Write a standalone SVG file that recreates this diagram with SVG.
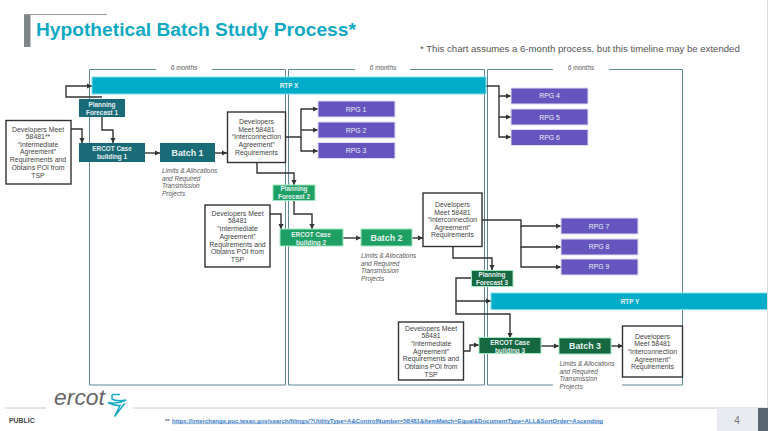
<svg xmlns="http://www.w3.org/2000/svg" width="768" height="431" viewBox="0 0 768 431">
<style>
text{font-family:"Liberation Sans",Arial,sans-serif}
.panel{fill:none;stroke:#5f8796;stroke-width:1}
.mo{font-size:6.4px;font-style:italic;fill:#555;text-anchor:middle}
.dev rect{fill:#fff;stroke:#333;stroke-width:1.4}
.dev text{font-size:6.9px;fill:#444;text-anchor:middle}
.rpg rect{fill:#6655bf;stroke:#e0dcf3;stroke-width:1}
.w{font-size:6.9px;fill:#e8f0f2;text-anchor:middle}
.wb{font-size:6.4px;font-weight:bold;fill:#e8f0f2;text-anchor:middle}
.batch{font-size:8.9px;font-weight:bold;fill:#e9f3f1;text-anchor:middle}
.rtp rect{fill:#00acc8;stroke:#7fdcec;stroke-width:1}
.dt rect{fill:#1a6b78}
.g2 rect{fill:#1ea064;stroke:#9fe6c2;stroke-width:1}
.g3 rect{fill:#15683f;stroke:#a5e6c4;stroke-width:1}
.lim{font-size:6.4px;font-style:italic;fill:#555}
.c{fill:none;stroke:#333;stroke-width:1.4}
.a{marker-end:url(#ah)}
</style>
<defs>
<marker id="ah" markerUnits="userSpaceOnUse" markerWidth="6" markerHeight="6" refX="5" refY="3" orient="auto"><path d="M0 0.4L5 3L0 5.6Z" fill="#333"/></marker>
</defs>
<rect width="768" height="431" fill="#fff"/>
<g id="title">
<rect x="24" y="14" width="6.5" height="33" fill="#7f8689"/>
<path d="M24 14.5H107" stroke="#999" stroke-width="1"/>
<text x="36" y="36" font-size="19.2" font-weight="bold" fill="#0fa9c4">Hypothetical Batch Study Process*</text>
<text x="420" y="52" font-size="9.6" fill="#555">* This chart assumes a 6-month process, but this timeline may be extended</text>
</g>
<g id="periods">
<path class="panel" d="M156 69.5H89.5V385H285.5V69.5H212"/>
<path class="panel" d="M355 69.5H288.5V385H484.5V69.5H410"/>
<path class="panel" d="M553 69.5H487.5V385H553M622 385H682.5V69.5H609"/>
<text class="mo" x="184" y="70">6 months</text>
<text class="mo" x="383" y="70">6 months</text>
<text class="mo" x="581" y="70">6 months</text>
</g>
<g id="connectors">
<path class="c a" d="M102 97H66V86H92"/>
<path class="c a" d="M102 117V130H113V143"/>
<path class="c a" d="M71 129H82V143"/>
<path class="c a" d="M145 153H160"/>
<path class="c a" d="M215 153H227"/>
<path class="c a" d="M286 137H301V109H318"/>
<path class="c a" d="M301 130H318"/>
<path class="c a" d="M301 137V151H318"/>
<path class="c a" d="M257 162V173H294V185"/>
<path class="c a" d="M294 200V214H312V229"/>
<path class="c a" d="M270 214H281V229"/>
<path class="c a" d="M343 238H361"/>
<path class="c a" d="M412 238H423"/>
<path class="c a" d="M482 220H521V226H561"/>
<path class="c a" d="M521 226V247H561"/>
<path class="c a" d="M521 247V267H561"/>
<path class="c a" d="M453 246V258H492V270"/>
<path class="c a" d="M471 278H456V314H510V338"/>
<path class="c a" d="M456 301H491"/>
<path class="c a" d="M463 351H470V345H479"/>
<path class="c a" d="M541 346H559"/>
<path class="c a" d="M611 346H623"/>
<path class="c a" d="M486 86H499V96H511"/>
<path class="c a" d="M499 96V117H511"/>
<path class="c a" d="M499 117V137H511"/>
</g>
<g id="rtp-x" class="rtp"><rect x="92" y="77" width="394" height="17"/><text class="wb" x="289" y="88">RTP X</text></g>
<g id="rtp-y" class="rtp"><rect x="491" y="293" width="280" height="16.5"/><text class="wb" x="630" y="303.5">RTP Y</text></g>
<g id="pf1" class="dt"><rect x="79" y="99" width="46" height="18"/><text class="wb" x="102" y="106.5">Planning</text><text class="wb" x="102" y="114.5">Forecast 1</text></g>
<g id="pf2" class="g2"><rect x="273" y="185" width="42" height="15.5"/><text class="wb" x="294" y="191">Planning</text><text class="wb" x="294" y="199">Forecast 2</text></g>
<g id="pf3" class="g3"><rect x="471.5" y="270.5" width="41.5" height="16"/><text class="wb" x="492" y="277">Planning</text><text class="wb" x="492" y="285">Forecast 3</text></g>
<g id="case1" class="dt"><rect x="79" y="143" width="66" height="19"/><text class="wb" x="112" y="151">ERCOT Case</text><text class="wb" x="112" y="159">building 1</text></g>
<g id="case2" class="g2"><rect x="280" y="229" width="63" height="17"/><text class="wb" x="311" y="236.5">ERCOT Case</text><text class="wb" x="311" y="244.5">building 2</text></g>
<g id="case3" class="g3"><rect x="479" y="337.5" width="62" height="16"/><text class="wb" x="510" y="344.5">ERCOT Case</text><text class="wb" x="510" y="352.5">building 3</text></g>
<g id="batch1" class="dt"><rect x="160" y="143" width="55" height="19"/><text class="batch" x="187.5" y="155.5">Batch 1</text></g>
<g id="batch2" class="g2"><rect x="361" y="229" width="51" height="17"/><text class="batch" x="386.5" y="240.5">Batch 2</text></g>
<g id="batch3" class="g3"><rect x="559" y="338" width="52" height="16"/><text class="batch" x="585" y="349">Batch 3</text></g>
<g id="dev-a1" class="dev"><rect x="6" y="120.5" width="65" height="63.5"/>
<text x="38" y="131.5">Developers Meet</text><text x="38" y="139">58481**</text><text x="38" y="146.5">“Intermediate</text><text x="38" y="154">Agreement”</text><text x="38" y="162">Requirements and</text><text x="38" y="169.5">Obtains POI from</text><text x="38" y="177.5">TSP</text></g>
<g id="dev-a2" class="dev"><rect x="205" y="205" width="65" height="62"/>
<text x="237.5" y="215.5">Developers Meet</text><text x="237.5" y="223">58481</text><text x="237.5" y="231">“Intermediate</text><text x="237.5" y="238.5">Agreement”</text><text x="237.5" y="246.5">Requirements and</text><text x="237.5" y="254">Obtains POI from</text><text x="237.5" y="262">TSP</text></g>
<g id="dev-a3" class="dev"><rect x="398.5" y="322" width="65" height="58"/>
<text x="431" y="330.5">Developers Meet</text><text x="431" y="338">58481</text><text x="431" y="345.5">“Intermediate</text><text x="431" y="353.5">Agreement”</text><text x="431" y="361">Requirements and</text><text x="431" y="368.5">Obtains POI from</text><text x="431" y="376.5">TSP</text></g>
<g id="dev-b1" class="dev"><rect x="227.5" y="112" width="58" height="50.5"/>
<text x="256.5" y="124">Developers</text><text x="256.5" y="131.5">Meet 58481</text><text x="256.5" y="139">“Interconnection</text><text x="256.5" y="147">Agreement”</text><text x="256.5" y="154.5">Requirements</text></g>
<g id="dev-b2" class="dev"><rect x="423" y="193" width="59" height="53.5"/>
<text x="452.5" y="206.5">Developers</text><text x="452.5" y="214.5">Meet 58481</text><text x="452.5" y="222">“Interconnection</text><text x="452.5" y="229.5">Agreement”</text><text x="452.5" y="237">Requirements</text></g>
<g id="dev-b3" class="dev"><rect x="622.5" y="326" width="60" height="51"/>
<text x="652.5" y="338.5">Developers</text><text x="652.5" y="346">Meet 58481</text><text x="652.5" y="353.5">“Interconnection</text><text x="652.5" y="361.5">Agreement”</text><text x="652.5" y="369">Requirements</text></g>
<g id="rpg1" class="rpg"><rect x="318" y="101" width="77" height="16"/><text class="w" x="356" y="111.5">RPG 1</text></g>
<g id="rpg2" class="rpg"><rect x="318" y="122" width="77" height="16"/><text class="w" x="356" y="132.5">RPG 2</text></g>
<g id="rpg3" class="rpg"><rect x="318" y="142.5" width="77" height="16"/><text class="w" x="356" y="153">RPG 3</text></g>
<g id="rpg4" class="rpg"><rect x="511" y="88" width="77" height="16"/><text class="w" x="549.5" y="98">RPG 4</text></g>
<g id="rpg5" class="rpg"><rect x="511" y="109" width="77" height="16"/><text class="w" x="549.5" y="119.5">RPG 5</text></g>
<g id="rpg6" class="rpg"><rect x="511" y="129.5" width="77" height="16"/><text class="w" x="549.5" y="139.5">RPG 6</text></g>
<g id="rpg7" class="rpg"><rect x="561" y="218" width="77" height="16"/><text class="w" x="599" y="228.5">RPG 7</text></g>
<g id="rpg8" class="rpg"><rect x="561" y="239" width="77" height="16"/><text class="w" x="599" y="249">RPG 8</text></g>
<g id="rpg9" class="rpg"><rect x="561" y="259" width="77" height="16"/><text class="w" x="599" y="269">RPG 9</text></g>
<g id="limits1" class="lim"><text x="162" y="172.5">Limits &amp; Allocations</text><text x="162" y="180.5">and Required</text><text x="162" y="188">Transmission</text><text x="162" y="195.5">Projects</text></g>
<g id="limits2" class="lim"><text x="361" y="257.5">Limits &amp; Allocations</text><text x="361" y="265.5">and Required</text><text x="361" y="273">Transmission</text><text x="361" y="280.5">Projects</text></g>
<g id="limits3" class="lim"><text x="559.5" y="365.5">Limits &amp; Allocations</text><text x="559.5" y="373.5">and Required</text><text x="559.5" y="381">Transmission</text><text x="559.5" y="388.5">Projects</text></g>
<g id="footer">
<path d="M5 408H46M133 408H768" stroke="#c8c8c8" stroke-width="1"/>
<path d="M767.5 0V408" stroke="#ddd" stroke-width="1"/>
<text x="54" y="405" font-size="22" font-style="italic" fill="#666" textLength="51" lengthAdjust="spacingAndGlyphs">ercot</text>
<path d="M112 394.5H120M112 394.5V399Q117 402 126 400Q118 404.5 108 402.5Q113 405.5 120 405.5L114.500 416.500L125 403" fill="none" stroke="#19a9c4" stroke-width="1.5"/>
<text x="9" y="423" font-size="6.9" font-weight="bold" fill="#444">PUBLIC</text>
<text x="165" y="422.500" font-size="6" font-weight="bold" fill="#666">**</text>
<text x="172" y="422.500" font-size="6" font-weight="bold" fill="#3b7dc4" text-decoration="underline">https://interchange.puc.texas.gov/search/filings/?UtilityType=A&amp;ControlNumber=58481&amp;ItemMatch=Equal&amp;DocumentType=ALL&amp;SortOrder=Ascending</text>
<rect x="717" y="408" width="41" height="23" fill="#e8ebef"/>
<rect x="758" y="408" width="10" height="23" fill="#5a6670"/>
<text x="737" y="424" font-size="10" fill="#777" text-anchor="middle">4</text>
</g>
</svg>
